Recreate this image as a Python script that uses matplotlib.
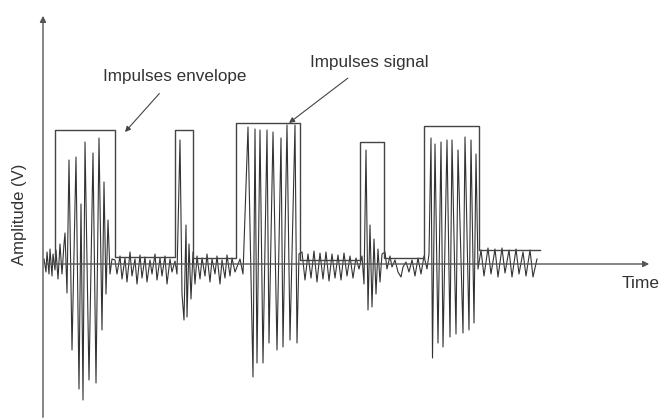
import matplotlib
matplotlib.use("Agg")
import matplotlib.pyplot as plt

plt.rcParams['font.family'] = ['Liberation Sans', 'DejaVu Sans']

# signal vertices, time in px-like units, amplitude relative to the time axis
seg_pre_t = [44, 46, 47, 49, 50, 52, 53, 55, 56, 58, 60, 62]
seg_pre_a = [5, -8, 12, -10, 15, -12, 10, -6, 14, -15, 20, -10]

burst1_t = [64, 65, 67, 69, 72, 76, 79, 81, 83, 85, 89, 93, 96, 99, 102, 104, 106, 108, 110, 112]
burst1_a = [20, 31, -29, 104, -86, 107, -125, 60, -136, 122, -116, 111, -119, 126, -66, 82, -30, 44, -10, 5]

noise1_t = [115, 117, 120, 122, 125, 127, 130, 132, 135, 137, 140, 142, 145, 147, 150, 152, 155, 157,
            160, 162, 165, 167, 170, 172, 175]
noise1_a = [4, -10, 8, -15, 6, -18, 12, -12, 5, -20, 9, -14, 7, -18, 4, -10, 10, -16, 6, -12, 8, -20, 5, -8, 3]

burst2_t = [177, 180, 182, 184, 186, 187, 189, 191, 193, 195, 197]
burst2_a = [-10, 124, -30, -56, 39, -53, 20, -35, 12, -20, 8]

noise2_t = [200, 202, 205, 207, 210, 212, 215, 217, 220, 222, 225, 227, 230, 232, 235]
noise2_a = [-15, 6, -12, 10, -18, 5, -10, 8, -20, 4, -14, 9, -12, 6, -8]

burst3_t = [240, 243, 248, 253, 255, 257, 260, 263, 267, 269, 273, 277, 281, 283, 287, 290, 295, 297, 299]
burst3_a = [5, -10, 137, -113, 135, -99, 134, -99, 134, -79, 132, -86, 126, -83, 139, -76, 139, -79, 10]

noise3_t = [302, 305, 308, 311, 314, 317, 320, 323, 326, 329, 332, 335, 338, 341, 344, 347, 350, 353, 356, 359]
noise3_a = [12, -16, 10, -14, 13, -18, 11, -15, 12, -17, 10, -14, 9, -16, 11, -12, 8, -14, 6, -5]

burst4_t = [362, 364, 366, 368, 370, 372, 374, 376, 378, 380, 382]
burst4_a = [8, -20, 114, -46, 39, -43, 25, -30, 15, -18, 10]

noise4_t = [385, 387, 390, 392, 395, 398, 401, 403, 406, 409, 412, 415, 418, 421, 424]
noise4_a = [12, -5, 8, -3, 4, -8, -13, -3, 2, -8, 4, -12, 6, -10, 8]

burst5_t = [427, 429, 431, 432.5, 435, 438, 441, 443, 447, 450, 452, 456, 458, 463, 465, 469, 471, 474, 476, 478]
burst5_a = [-5, 10, 126, -94, 120, -79, 122, -83, 124, -73, 124, -70, 114, -69, 127, -66, 124, -59, 110, -5]

noise5_t = [481, 484, 488, 491, 495, 498, 502, 505, 509, 512, 516, 519, 523, 526, 530, 533, 537]
noise5_a = [14, -12, 16, -10, 15, -13, 16, -9, 14, -13, 15, -10, 12, -12, 14, -13, 5]

sig_t = (seg_pre_t + burst1_t + noise1_t + burst2_t + noise2_t + burst3_t + noise3_t
         + burst4_t + noise4_t + burst5_t + noise5_t)
sig_a = (seg_pre_a + burst1_a + noise1_a + burst2_a + noise2_a + burst3_a + noise3_a
         + burst4_a + noise4_a + burst5_a + noise5_a)

# impulse envelope (rectangular pulses)
env_t = [55, 55, 115, 115, 175, 175, 193, 193, 236, 236, 300, 300, 360, 360, 384, 384, 424, 424, 479, 479, 540]
env_a = [4, 134, 134, 7, 7, 134, 134, 6, 6, 141, 141, 4, 4, 122, 122, 6, 6, 138, 138, 14, 14]

fig = plt.figure(figsize=(6.6, 4.2), dpi=100)
ax = fig.add_axes([0, 0, 1, 1])
ax.set_xlim(0, 660)
ax.set_ylim(-156, 264)
ax.axis('off')

# axes with arrows
ax.annotate('', xy=(43, 251), xytext=(43, -156),
            arrowprops=dict(arrowstyle='-|>', color='#555555', lw=1.0, mutation_scale=9))
ax.annotate('', xy=(652, 0), xytext=(43, 0),
            arrowprops=dict(arrowstyle='-|>', color='#555555', lw=1.0, mutation_scale=9))

ax.plot(sig_t, sig_a, color='#333333', lw=0.8)
ax.plot(env_t, env_a, color='#444444', lw=1.0)

ax.text(20, 50, 'Amplitude (V)', rotation=90, ha='center', va='center', fontsize=12, color='#333333')
ax.text(622, -19, 'Time', ha='left', va='center', fontsize=12.5, color='#333333')

ax.annotate('Impulses envelope', xy=(125, 132), xytext=(175, 188),
            ha='center', va='center', fontsize=12.3, color='#333333',
            arrowprops=dict(arrowstyle='-|>', color='#444444', lw=0.8, mutation_scale=8,
                            shrinkA=7, shrinkB=0))
ax.annotate('Impulses signal', xy=(289, 141), xytext=(369, 202),
            ha='center', va='center', fontsize=12.3, color='#333333',
            arrowprops=dict(arrowstyle='-|>', color='#444444', lw=0.8, mutation_scale=8,
                            shrinkA=7, shrinkB=0))

fig.savefig('out.png', dpi=100)
